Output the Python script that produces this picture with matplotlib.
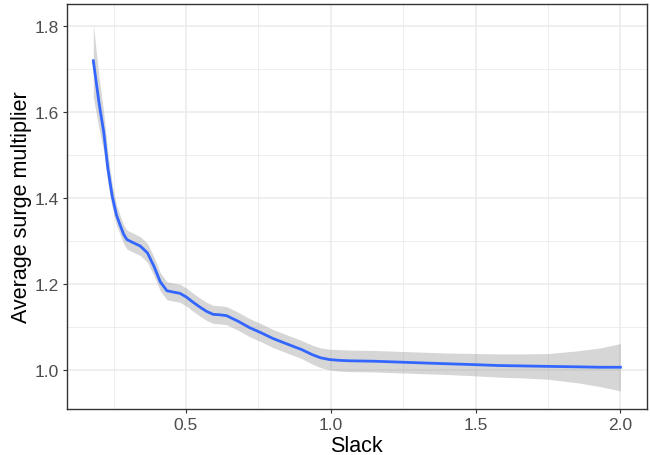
import numpy as np
import matplotlib
matplotlib.use("Agg")
import matplotlib.pyplot as plt

# smoothed curve
slack = [0.18, 0.20, 0.216, 0.23, 0.245, 0.26, 0.273, 0.285, 0.296, 0.32, 0.342,
         0.367, 0.39, 0.411, 0.434, 0.455, 0.479, 0.502, 0.525, 0.548, 0.571,
         0.594, 0.617, 0.640, 0.68, 0.72, 0.76, 0.80, 0.857, 0.90, 0.937, 0.965,
         0.995, 1.03, 1.064, 1.15, 1.235, 1.32, 1.407, 1.50, 1.579, 1.67, 1.751,
         1.85, 1.93, 2.0]
surge = [1.719, 1.62, 1.553, 1.47, 1.405, 1.36, 1.336, 1.315, 1.303, 1.295, 1.288,
         1.272, 1.24, 1.205, 1.184, 1.181, 1.178, 1.169, 1.157, 1.146, 1.136,
         1.129, 1.128, 1.126, 1.113, 1.098, 1.086, 1.073, 1.058, 1.047, 1.035, 1.028,
         1.024, 1.022, 1.021, 1.020, 1.018, 1.016, 1.014, 1.012, 1.010, 1.009, 1.008,
         1.007, 1.006, 1.006]
# half width of the confidence band
band = [0.085, 0.06, 0.045, 0.035, 0.028, 0.024, 0.022, 0.022, 0.022, 0.022, 0.022,
        0.022, 0.022, 0.021, 0.021, 0.021, 0.021, 0.021, 0.021, 0.021, 0.021,
        0.021, 0.021, 0.021, 0.021, 0.021, 0.021, 0.021, 0.021, 0.021, 0.022, 0.023,
        0.024, 0.025, 0.025, 0.025, 0.025, 0.025, 0.025, 0.026, 0.027, 0.028, 0.030,
        0.037, 0.045, 0.055]

x = np.array(slack)
y = np.array(surge)
hw = np.array(band)

plt.rcParams['font.family'] = ['Liberation Sans', 'DejaVu Sans']

fig = plt.figure(figsize=(6.5, 4.56), dpi=100)
ax = fig.add_axes([0.103, 0.101, 0.892, 0.888])

ax.fill_between(x, y - hw, y + hw, color='#999999', alpha=0.4, linewidth=0, zorder=2)
ax.plot(x, y, color='#3366FF', linewidth=2, zorder=3)

ax.set_xlim(0.089, 2.091)
ax.set_ylim(0.909, 1.851)
ax.set_xticks([0.5, 1.0, 1.5, 2.0])
ax.set_yticks([1.0, 1.2, 1.4, 1.6, 1.8])
ax.set_xticks([0.25, 0.75, 1.25, 1.75], minor=True)
ax.set_yticks([1.1, 1.3, 1.5, 1.7], minor=True)
ax.grid(True, which='major', color='#EBEBEB', linewidth=1.1, zorder=0)
ax.grid(True, which='minor', color='#EBEBEB', linewidth=0.6, zorder=0)
ax.set_axisbelow(True)

ax.tick_params(which='major', length=3, width=0.8, color='#333333',
               labelsize=12.5, labelcolor='#4D4D4D', pad=3)
ax.tick_params(which='minor', length=0)
for s in ax.spines.values():
    s.set_color('#333333')
    s.set_linewidth(1)

ax.set_xlabel('Slack', fontsize=15.5, labelpad=2)
ax.set_ylabel('Average surge multiplier', fontsize=15.5, labelpad=2)

fig.savefig('out.png', dpi=100)
